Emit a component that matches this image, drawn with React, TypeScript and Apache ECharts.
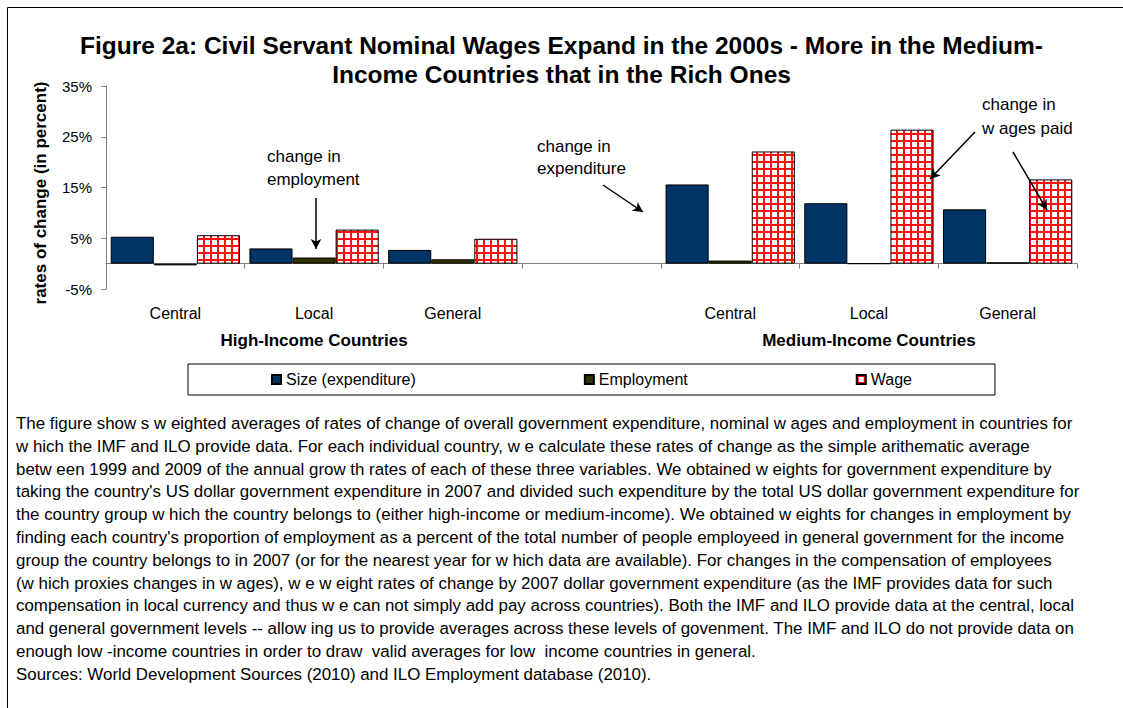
import React, { useEffect, useRef } from 'react';
import * as echarts from 'echarts';

const categories = ['Central', 'Local', 'General', '', 'Central', 'Local', 'General'];
const groupLabels = ['', 'High-Income Countries', '', '', '', 'Medium-Income Countries', ''];
const seriesNames = ['Size (expenditure)', 'Employment', 'Wage'];
const sizeValues = [5.3, 3.0, 2.7, null, 15.6, 11.9, 10.7];
const employmentValues = [-0.35, 1.2, 0.85, null, 0.6, 0, 0.25];
const wageValues = [5.6, 6.7, 4.9, null, 22.1, 26.4, 16.6];
const yMin = -5;
const yMax = 35;
const yStep = 10;

const titleLines = [
  'Figure 2a: Civil Servant Nominal Wages Expand in the 2000s - More in the Medium-',
  'Income Countries that in the Rich Ones',
];
const yAxisTitle = 'rates of change (in percent)';
const noteEmployment = ['change in', 'employment'];
const noteExpenditure = ['change in', 'expenditure'];
const noteWages = ['change in', 'w ages paid'];

const captionLines = [
  'The figure show s w eighted averages of rates of change of overall government expenditure, nominal w ages and employment in countries for',
  'w hich the IMF and ILO provide data. For each individual country, w e calculate these rates of change as the simple arithematic average',
  'betw een 1999 and 2009 of the annual grow th rates of each of these three variables. We obtained w eights for government expenditure by',
  "taking the country's US dollar government expenditure in 2007 and divided such expenditure by the total US dollar government expenditure for",
  'the country group w hich the country belongs to (either high-income or medium-income). We obtained w eights for changes in employment by',
  "finding each country's proportion of employment as a percent of the total number of people employeed in general government for the income",
  'group the country belongs to in 2007 (or for the nearest year for w hich data are available). For changes in the compensation of employees',
  '(w hich proxies changes in w ages), w e w eight rates of change by 2007 dollar government expenditure (as the IMF provides data for such',
  'compensation in local currency and thus w e can not simply add pay across countries). Both the IMF and ILO provide data at the central, local',
  'and general government levels -- allow ing us to provide averages across these levels of govenment. The IMF and ILO do not provide data on',
  'enough low -income countries in order to draw  valid averages for low  income countries in general.',
  'Sources: World Development Sources (2010) and ILO Employment database (2010).',
];

const FONT = 'Liberation Sans, Arial, Helvetica, sans-serif';

function makeWagePattern() {
  const c = document.createElement('canvas');
  c.width = 7;
  c.height = 7;
  const ctx = c.getContext('2d');
  if (ctx) {
    ctx.fillStyle = '#ffffff';
    ctx.fillRect(0, 0, 7, 7);
    ctx.fillStyle = '#ff1010';
    ctx.fillRect(0, 0, 7, 2);
    ctx.fillRect(0, 0, 2, 7);
  }
  return c;
}

export default function App() {
  const ref = useRef<HTMLDivElement>(null);

  useEffect(() => {
    if (!ref.current) return;
    const chart = echarts.init(ref.current, undefined, { renderer: 'svg' });
    const pattern = makeWagePattern();

    const arrowLine = (x1: number, y1: number, x2: number, y2: number) => [
      { x: x1, y: y1, symbol: 'none' },
      { x: x2, y: y2, symbol: 'arrow' },
    ];

    const option: any = {
      animation: false,
      backgroundColor: '#ffffff',
      textStyle: { fontFamily: FONT },
      grid: { left: 106, top: 86, width: 971, height: 203, containLabel: false },
      legend: {
        data: seriesNames,
        left: 188,
        top: 364,
        padding: [7, 83, 7, 83],
        itemGap: 168,
        itemWidth: 9,
        itemHeight: 9,
        icon: 'rect',
        borderColor: '#000',
        borderWidth: 1,
        textStyle: { fontSize: 16, color: '#000', fontFamily: FONT, lineHeight: 17 },
      },
      xAxis: [
        {
          type: 'category',
          data: categories,
          axisLine: { onZero: true, lineStyle: { color: '#808080', width: 1 } },
          axisTick: { show: true, length: 5, interval: 0, lineStyle: { color: '#808080' } },
          axisLabel: { interval: 0, margin: 16, fontSize: 16, color: '#000', fontFamily: FONT },
          splitLine: { show: false },
        },
        {
          type: 'category',
          data: groupLabels,
          position: 'bottom',
          axisLine: { show: false, onZero: false },
          axisTick: { show: false },
          axisLabel: {
            interval: 0,
            margin: 43,
            fontSize: 17,
            fontWeight: 'bold',
            color: '#000',
            fontFamily: FONT,
          },
          splitLine: { show: false },
        },
      ],
      yAxis: {
        type: 'value',
        min: yMin,
        max: yMax,
        interval: yStep,
        axisLine: { show: true, lineStyle: { color: '#808080', width: 1 } },
        axisTick: { show: true, length: 5, lineStyle: { color: '#808080' } },
        axisLabel: { formatter: '{value}%', fontSize: 15, color: '#000', margin: 14, fontFamily: FONT },
        splitLine: { show: false },
      },
      series: [
        {
          name: seriesNames[0],
          type: 'bar',
          data: sizeValues,
          barGap: '0%',
          barCategoryGap: '6.8%',
          itemStyle: { color: '#003366', borderColor: '#000', borderWidth: 1 },
          markLine: {
            silent: true,
            symbolSize: [8, 10],
            label: { show: false },
            lineStyle: { color: '#000', width: 1.5, type: 'solid' },
            data: [
              arrowLine(316, 198, 316, 249),
              arrowLine(603, 185, 643, 212),
              arrowLine(975, 132, 930, 179),
              arrowLine(1013, 152, 1047, 210),
            ],
          },
        },
        {
          name: seriesNames[1],
          type: 'bar',
          data: employmentValues,
          barGap: '0%',
          barCategoryGap: '6.8%',
          itemStyle: { color: '#333300', borderColor: '#000', borderWidth: 1 },
        },
        {
          name: seriesNames[2],
          type: 'bar',
          data: wageValues,
          barGap: '0%',
          barCategoryGap: '6.8%',
          itemStyle: {
            color: { image: pattern, repeat: 'repeat' },
            borderColor: '#000',
            borderWidth: 1,
          },
        },
      ],
      graphic: [
        {
          type: 'rect',
          z: -10,
          shape: { x: 7.5, y: 7.5, width: 1300, height: 900 },
          style: { fill: 'none', stroke: '#000', lineWidth: 1 },
        },
        {
          type: 'text',
          x: 561.5,
          y: 31,
          style: {
            text: titleLines.join('\n'),
            font: `bold 24.5px ${FONT}`,
            textAlign: 'center',
            lineHeight: 29,
            fill: '#000',
          },
        },
        {
          type: 'text',
          x: 40,
          y: 193,
          rotation: Math.PI / 2,
          style: {
            text: yAxisTitle,
            font: `bold 17px ${FONT}`,
            textAlign: 'center',
            textVerticalAlign: 'middle',
            fill: '#000',
          },
        },
        {
          type: 'text',
          x: 267,
          y: 145,
          style: { text: noteEmployment.join('\n'), font: `17px ${FONT}`, lineHeight: 23, fill: '#000' },
        },
        {
          type: 'text',
          x: 537,
          y: 135,
          style: { text: noteExpenditure.join('\n'), font: `17px ${FONT}`, lineHeight: 22, fill: '#000' },
        },
        {
          type: 'text',
          x: 982,
          y: 92,
          style: { text: noteWages.join('\n'), font: `17px ${FONT}`, lineHeight: 24, fill: '#000' },
        },
        {
          type: 'text',
          x: 16,
          y: 412,
          style: { text: captionLines.join('\n'), font: `16.9px ${FONT}`, lineHeight: 22.8, fill: '#000' },
        },
      ],
    };

    chart.setOption(option);
    return () => {
      chart.dispose();
    };
  }, []);

  return (
    <div
      ref={ref}
      style={{ position: 'absolute', left: 0, top: 0, width: 1123, height: 708, background: '#fff' }}
    />
  );
}
